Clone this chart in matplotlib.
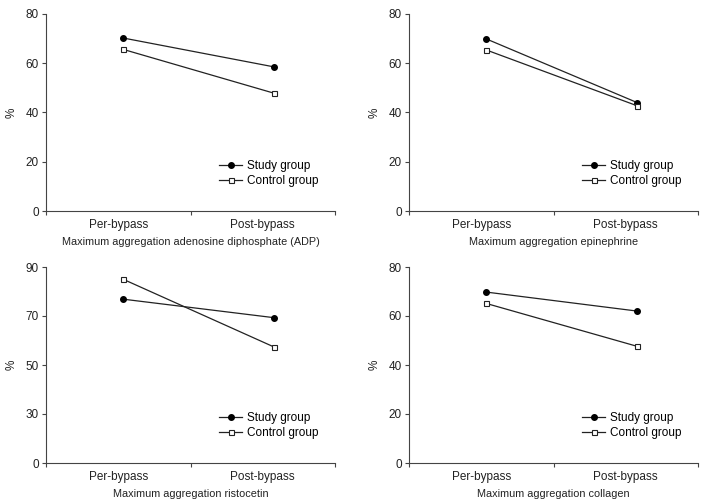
import matplotlib
matplotlib.use('Agg')
import matplotlib.pyplot as plt

plt.rcParams['font.family'] = ['Liberation Sans', 'DejaVu Sans']

CATEGORIES = ['Per-bypass', 'Post-bypass']
SERIES = ['Study group', 'Control group']

TITLES = [
    'Maximum aggregation adenosine diphosphate (ADP)',
    'Maximum aggregation epinephrine',
    'Maximum aggregation ristocetin',
    'Maximum aggregation collagen',
]

# values in %
adp_study = [70.3, 58.5]
adp_control = [65.7, 47.8]
epi_study = [70.0, 44.0]
epi_control = [65.5, 42.7]
risto_study = [76.9, 69.3]
risto_control = [85.1, 57.3]
coll_study = [69.8, 62.0]
coll_control = [65.2, 47.6]

STUDY = [adp_study, epi_study, risto_study, coll_study]
CONTROL = [adp_control, epi_control, risto_control, coll_control]

# y ticks (ristocetin panel has a compressed bottom: 0 sits where 10 would be)
YTICKS = [[0, 20, 40, 60, 80]] * 2 + [[10, 30, 50, 70, 90], [0, 20, 40, 60, 80]]
YLABELS = [['0', '20', '40', '60', '80']] * 2 + [['0', '30', '50', '70', '90'],
                                               ['0', '20', '40', '60', '80']]

W, H = 707, 503
fig = plt.figure(figsize=(W / 100, H / 100), dpi=100)

# axes boxes in pixels: left, top, right, bottom
boxes = [(46, 14, 335, 211), (409, 14, 698, 211),
         (46, 267, 335, 463), (409, 267, 698, 463)]

label_x = [0.5, 1.5]
point_x = [0.53, 1.58]
TXT = '#222222'

for i, (l, t, r, b) in enumerate(boxes):
    ax = fig.add_axes([l / W, 1 - b / H, (r - l) / W, (b - t) / H])
    ax.plot(point_x, STUDY[i], color=TXT, lw=0.9, marker='o', ms=4,
            mfc='black', mec='black', label=SERIES[0])
    ax.plot(point_x, CONTROL[i], color=TXT, lw=0.9, marker='s', ms=3.6,
            mfc='white', mec=TXT, mew=0.8, label=SERIES[1])
    ax.set_xlim(0, 2)
    yt = YTICKS[i]
    ax.set_ylim(yt[0], yt[-1])
    ax.set_yticks(yt)
    ax.set_yticklabels(YLABELS[i], fontsize=8.5, color=TXT)
    ax.set_xticks([0, 1, 2])
    ax.set_xticklabels([])
    for x, c in zip(label_x, CATEGORIES):
        ax.annotate(c, (x, 0), xycoords=ax.get_xaxis_transform(),
                    xytext=(0, -5.5), textcoords='offset points',
                    ha='center', va='top', fontsize=8.5, color=TXT)
    ax.annotate(TITLES[i], (0.5, 0), xycoords='axes fraction',
                xytext=(0, -18.5), textcoords='offset points',
                ha='center', va='top', fontsize=7.8, color=TXT)
    ax.set_ylabel('%', fontsize=8.5, color=TXT, labelpad=6)
    ax.spines['top'].set_visible(False)
    ax.spines['right'].set_visible(False)
    for s in ('left', 'bottom'):
        ax.spines[s].set_color('#444444')
        ax.spines[s].set_linewidth(0.8)
    ax.tick_params(axis='both', direction='out', length=3, width=0.8,
                   color='#444444', pad=2)
    ax.legend(loc='lower right', bbox_to_anchor=(0.97, 0.08), frameon=False,
              fontsize=8.5, handlelength=1.9, handletextpad=0.4,
              labelspacing=0.25, borderaxespad=0.3)

fig.savefig('out.png', dpi=100)
